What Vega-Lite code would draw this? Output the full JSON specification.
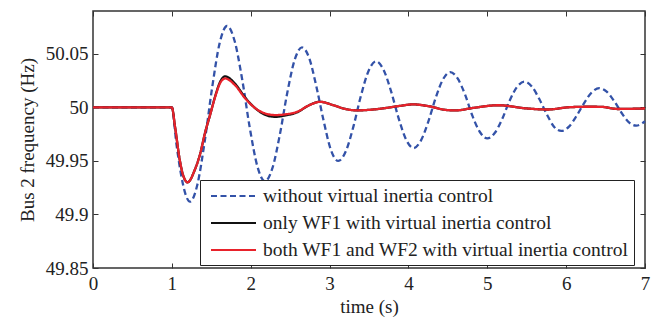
{
  "$schema": "https://vega.github.io/schema/vega-lite/v6.json",
  "width": 552,
  "height": 257,
  "autosize": {"type": "none"},
  "padding": {"left": 93, "top": 11, "right": 15, "bottom": 52},
  "background": "white",
  "config": {
    "font": "Liberation Serif",
    "view": {"stroke": "#333333", "strokeWidth": 1.5},
    "axis": {
      "domain": false,
      "grid": false,
      "labelFlush": false,
      "tickColor": "#333333",
      "tickSize": -5,
      "tickWidth": 1,
      "labelFont": "Liberation Serif",
      "labelFontSize": 19,
      "labelColor": "#222222",
      "titleFont": "Liberation Serif",
      "titleFontSize": 19,
      "titleFontWeight": "normal",
      "titleColor": "#222222"
    }
  },
  "layer": [
    {
      "data": {
        "values": [
          {"t": 0, "f": 50, "s": "without virtual inertia control"},
          {"t": 1.0, "f": 50, "s": "without virtual inertia control"},
          {"t": 1.0575, "f": 49.966, "s": "without virtual inertia control"},
          {"t": 1.115, "f": 49.938, "s": "without virtual inertia control"},
          {"t": 1.1725, "f": 49.919, "s": "without virtual inertia control"},
          {"t": 1.23, "f": 49.912, "s": "without virtual inertia control"},
          {"t": 1.324, "f": 49.928, "s": "without virtual inertia control"},
          {"t": 1.418, "f": 49.969, "s": "without virtual inertia control"},
          {"t": 1.512, "f": 50.019, "s": "without virtual inertia control"},
          {"t": 1.606, "f": 50.06, "s": "without virtual inertia control"},
          {"t": 1.7, "f": 50.076, "s": "without virtual inertia control"},
          {"t": 1.796, "f": 50.062, "s": "without virtual inertia control"},
          {"t": 1.892, "f": 50.026, "s": "without virtual inertia control"},
          {"t": 1.988, "f": 49.981, "s": "without virtual inertia control"},
          {"t": 2.084, "f": 49.945, "s": "without virtual inertia control"},
          {"t": 2.18, "f": 49.931, "s": "without virtual inertia control"},
          {"t": 2.274, "f": 49.943, "s": "without virtual inertia control"},
          {"t": 2.368, "f": 49.974, "s": "without virtual inertia control"},
          {"t": 2.462, "f": 50.013, "s": "without virtual inertia control"},
          {"t": 2.556, "f": 50.044, "s": "without virtual inertia control"},
          {"t": 2.65, "f": 50.056, "s": "without virtual inertia control"},
          {"t": 2.742, "f": 50.046, "s": "without virtual inertia control"},
          {"t": 2.834, "f": 50.019, "s": "without virtual inertia control"},
          {"t": 2.926, "f": 49.987, "s": "without virtual inertia control"},
          {"t": 3.018, "f": 49.96, "s": "without virtual inertia control"},
          {"t": 3.11, "f": 49.95, "s": "without virtual inertia control"},
          {"t": 3.206, "f": 49.959, "s": "without virtual inertia control"},
          {"t": 3.302, "f": 49.982, "s": "without virtual inertia control"},
          {"t": 3.398, "f": 50.011, "s": "without virtual inertia control"},
          {"t": 3.494, "f": 50.034, "s": "without virtual inertia control"},
          {"t": 3.59, "f": 50.043, "s": "without virtual inertia control"},
          {"t": 3.685, "f": 50.035, "s": "without virtual inertia control"},
          {"t": 3.78, "f": 50.015, "s": "without virtual inertia control"},
          {"t": 3.875, "f": 49.99, "s": "without virtual inertia control"},
          {"t": 3.97, "f": 49.97, "s": "without virtual inertia control"},
          {"t": 4.065, "f": 49.962, "s": "without virtual inertia control"},
          {"t": 4.158, "f": 49.969, "s": "without virtual inertia control"},
          {"t": 4.251, "f": 49.9865, "s": "without virtual inertia control"},
          {"t": 4.344, "f": 50.0085, "s": "without virtual inertia control"},
          {"t": 4.437, "f": 50.026, "s": "without virtual inertia control"},
          {"t": 4.53, "f": 50.033, "s": "without virtual inertia control"},
          {"t": 4.624, "f": 50.027, "s": "without virtual inertia control"},
          {"t": 4.718, "f": 50.012, "s": "without virtual inertia control"},
          {"t": 4.812, "f": 49.992, "s": "without virtual inertia control"},
          {"t": 4.906, "f": 49.977, "s": "without virtual inertia control"},
          {"t": 5.0, "f": 49.971, "s": "without virtual inertia control"},
          {"t": 5.094, "f": 49.976, "s": "without virtual inertia control"},
          {"t": 5.188, "f": 49.989, "s": "without virtual inertia control"},
          {"t": 5.282, "f": 50.006, "s": "without virtual inertia control"},
          {"t": 5.376, "f": 50.019, "s": "without virtual inertia control"},
          {"t": 5.47, "f": 50.024, "s": "without virtual inertia control"},
          {"t": 5.564, "f": 50.0196, "s": "without virtual inertia control"},
          {"t": 5.658, "f": 50.008, "s": "without virtual inertia control"},
          {"t": 5.752, "f": 49.994, "s": "without virtual inertia control"},
          {"t": 5.846, "f": 49.982, "s": "without virtual inertia control"},
          {"t": 5.94, "f": 49.978, "s": "without virtual inertia control"},
          {"t": 6.036, "f": 49.982, "s": "without virtual inertia control"},
          {"t": 6.132, "f": 49.992, "s": "without virtual inertia control"},
          {"t": 6.228, "f": 50.004, "s": "without virtual inertia control"},
          {"t": 6.324, "f": 50.014, "s": "without virtual inertia control"},
          {"t": 6.42, "f": 50.018, "s": "without virtual inertia control"},
          {"t": 6.514, "f": 50.0147, "s": "without virtual inertia control"},
          {"t": 6.608, "f": 50.006, "s": "without virtual inertia control"},
          {"t": 6.702, "f": 49.995, "s": "without virtual inertia control"},
          {"t": 6.796, "f": 49.986, "s": "without virtual inertia control"},
          {"t": 6.89, "f": 49.983, "s": "without virtual inertia control"},
          {"t": 7.0, "f": 49.987, "s": "without virtual inertia control"},

          {"t": 0, "f": 50, "s": "only WF1 with virtual inertia control"},
          {"t": 1.0, "f": 50, "s": "only WF1 with virtual inertia control"},
          {"t": 1.04, "f": 49.982, "s": "only WF1 with virtual inertia control"},
          {"t": 1.1, "f": 49.951, "s": "only WF1 with virtual inertia control"},
          {"t": 1.15, "f": 49.935, "s": "only WF1 with virtual inertia control"},
          {"t": 1.2, "f": 49.93, "s": "only WF1 with virtual inertia control"},
          {"t": 1.29, "f": 49.9415, "s": "only WF1 with virtual inertia control"},
          {"t": 1.36, "f": 49.957, "s": "only WF1 with virtual inertia control"},
          {"t": 1.42, "f": 49.976, "s": "only WF1 with virtual inertia control"},
          {"t": 1.485, "f": 49.993, "s": "only WF1 with virtual inertia control"},
          {"t": 1.55, "f": 50.0105, "s": "only WF1 with virtual inertia control"},
          {"t": 1.61, "f": 50.0235, "s": "only WF1 with virtual inertia control"},
          {"t": 1.675, "f": 50.029, "s": "only WF1 with virtual inertia control"},
          {"t": 1.8, "f": 50.0222, "s": "only WF1 with virtual inertia control"},
          {"t": 1.93, "f": 50.0092, "s": "only WF1 with virtual inertia control"},
          {"t": 2.06, "f": 49.999, "s": "only WF1 with virtual inertia control"},
          {"t": 2.18, "f": 49.9932, "s": "only WF1 with virtual inertia control"},
          {"t": 2.31, "f": 49.9912, "s": "only WF1 with virtual inertia control"},
          {"t": 2.44, "f": 49.9925, "s": "only WF1 with virtual inertia control"},
          {"t": 2.6, "f": 49.9958, "s": "only WF1 with virtual inertia control"},
          {"t": 2.72, "f": 50.0012, "s": "only WF1 with virtual inertia control"},
          {"t": 2.88, "f": 50.0052, "s": "only WF1 with virtual inertia control"},
          {"t": 3.05, "f": 50.002, "s": "only WF1 with virtual inertia control"},
          {"t": 3.2, "f": 49.9985, "s": "only WF1 with virtual inertia control"},
          {"t": 3.35, "f": 49.9972, "s": "only WF1 with virtual inertia control"},
          {"t": 3.55, "f": 49.998, "s": "only WF1 with virtual inertia control"},
          {"t": 3.72, "f": 49.9995, "s": "only WF1 with virtual inertia control"},
          {"t": 3.9, "f": 50.0015, "s": "only WF1 with virtual inertia control"},
          {"t": 4.06, "f": 50.0028, "s": "only WF1 with virtual inertia control"},
          {"t": 4.25, "f": 50.0012, "s": "only WF1 with virtual inertia control"},
          {"t": 4.49, "f": 49.9975, "s": "only WF1 with virtual inertia control"},
          {"t": 4.6, "f": 49.9972, "s": "only WF1 with virtual inertia control"},
          {"t": 4.83, "f": 49.9996, "s": "only WF1 with virtual inertia control"},
          {"t": 5.14, "f": 50.002, "s": "only WF1 with virtual inertia control"},
          {"t": 5.5, "f": 49.999, "s": "only WF1 with virtual inertia control"},
          {"t": 5.76, "f": 49.998, "s": "only WF1 with virtual inertia control"},
          {"t": 6.05, "f": 50.0002, "s": "only WF1 with virtual inertia control"},
          {"t": 6.3, "f": 50.0006, "s": "only WF1 with virtual inertia control"},
          {"t": 6.45, "f": 50.0005, "s": "only WF1 with virtual inertia control"},
          {"t": 6.65, "f": 49.9985, "s": "only WF1 with virtual inertia control"},
          {"t": 7.0, "f": 49.999, "s": "only WF1 with virtual inertia control"},

          {"t": 0, "f": 50, "s": "both WF1 and WF2 with virtual inertia control"},
          {"t": 1.0, "f": 50, "s": "both WF1 and WF2 with virtual inertia control"},
          {"t": 1.04, "f": 49.982, "s": "both WF1 and WF2 with virtual inertia control"},
          {"t": 1.1, "f": 49.951, "s": "both WF1 and WF2 with virtual inertia control"},
          {"t": 1.15, "f": 49.935, "s": "both WF1 and WF2 with virtual inertia control"},
          {"t": 1.2, "f": 49.93, "s": "both WF1 and WF2 with virtual inertia control"},
          {"t": 1.29, "f": 49.9415, "s": "both WF1 and WF2 with virtual inertia control"},
          {"t": 1.36, "f": 49.957, "s": "both WF1 and WF2 with virtual inertia control"},
          {"t": 1.42, "f": 49.976, "s": "both WF1 and WF2 with virtual inertia control"},
          {"t": 1.485, "f": 49.993, "s": "both WF1 and WF2 with virtual inertia control"},
          {"t": 1.55, "f": 50.01, "s": "both WF1 and WF2 with virtual inertia control"},
          {"t": 1.61, "f": 50.0224, "s": "both WF1 and WF2 with virtual inertia control"},
          {"t": 1.675, "f": 50.027, "s": "both WF1 and WF2 with virtual inertia control"},
          {"t": 1.8, "f": 50.0208, "s": "both WF1 and WF2 with virtual inertia control"},
          {"t": 1.93, "f": 50.0084, "s": "both WF1 and WF2 with virtual inertia control"},
          {"t": 2.06, "f": 49.9991, "s": "both WF1 and WF2 with virtual inertia control"},
          {"t": 2.18, "f": 49.9944, "s": "both WF1 and WF2 with virtual inertia control"},
          {"t": 2.31, "f": 49.9928, "s": "both WF1 and WF2 with virtual inertia control"},
          {"t": 2.44, "f": 49.9935, "s": "both WF1 and WF2 with virtual inertia control"},
          {"t": 2.6, "f": 49.9962, "s": "both WF1 and WF2 with virtual inertia control"},
          {"t": 2.72, "f": 50.0012, "s": "both WF1 and WF2 with virtual inertia control"},
          {"t": 2.88, "f": 50.0052, "s": "both WF1 and WF2 with virtual inertia control"},
          {"t": 3.05, "f": 50.002, "s": "both WF1 and WF2 with virtual inertia control"},
          {"t": 3.2, "f": 49.9985, "s": "both WF1 and WF2 with virtual inertia control"},
          {"t": 3.35, "f": 49.9972, "s": "both WF1 and WF2 with virtual inertia control"},
          {"t": 3.55, "f": 49.998, "s": "both WF1 and WF2 with virtual inertia control"},
          {"t": 3.72, "f": 49.9995, "s": "both WF1 and WF2 with virtual inertia control"},
          {"t": 3.9, "f": 50.0015, "s": "both WF1 and WF2 with virtual inertia control"},
          {"t": 4.06, "f": 50.0028, "s": "both WF1 and WF2 with virtual inertia control"},
          {"t": 4.25, "f": 50.0012, "s": "both WF1 and WF2 with virtual inertia control"},
          {"t": 4.49, "f": 49.9975, "s": "both WF1 and WF2 with virtual inertia control"},
          {"t": 4.6, "f": 49.9972, "s": "both WF1 and WF2 with virtual inertia control"},
          {"t": 4.83, "f": 49.9996, "s": "both WF1 and WF2 with virtual inertia control"},
          {"t": 5.14, "f": 50.002, "s": "both WF1 and WF2 with virtual inertia control"},
          {"t": 5.5, "f": 49.999, "s": "both WF1 and WF2 with virtual inertia control"},
          {"t": 5.76, "f": 49.998, "s": "both WF1 and WF2 with virtual inertia control"},
          {"t": 6.05, "f": 50.0002, "s": "both WF1 and WF2 with virtual inertia control"},
          {"t": 6.3, "f": 50.0006, "s": "both WF1 and WF2 with virtual inertia control"},
          {"t": 6.45, "f": 50.0005, "s": "both WF1 and WF2 with virtual inertia control"},
          {"t": 6.65, "f": 49.9985, "s": "both WF1 and WF2 with virtual inertia control"},
          {"t": 7.0, "f": 49.999, "s": "both WF1 and WF2 with virtual inertia control"}
        ]
      },
      "mark": {"type": "line", "interpolate": "monotone", "strokeWidth": 2.3},
      "encoding": {
        "x": {
          "field": "t", "type": "quantitative",
          "scale": {"domain": [0, 7], "nice": false, "zero": false},
          "axis": {"orient": "bottom", "values": [0, 1, 2, 3, 4, 5, 6, 7], "format": "d", "title": "time (s)", "labelPadding": 11, "titlePadding": 4}
        },
        "y": {
          "field": "f", "type": "quantitative",
          "scale": {"domain": [49.85, 50.09], "nice": false, "zero": false},
          "axis": {"orient": "left", "values": [49.85, 49.9, 49.95, 50, 50.05], "format": "~f", "title": "Bus 2 frequency (Hz)", "labelPadding": 10, "titlePadding": 8}
        },
        "color": {
          "field": "s", "type": "nominal",
          "scale": {
            "domain": ["without virtual inertia control", "only WF1 with virtual inertia control", "both WF1 and WF2 with virtual inertia control"],
            "range": ["#3352a8", "#111111", "#e8222b"]
          },
          "legend": {
            "orient": "none", "legendX": 107, "legendY": 169, "title": null,
            "labelFont": "Liberation Serif", "labelFontSize": 19.5, "labelColor": "#222222", "labelLimit": 0,
            "symbolType": "M-0.5,0H4", "symbolSize": 400, "symbolStrokeWidth": 2,
            "strokeColor": "#222222", "fillColor": "white", "padding": 5, "rowPadding": 6, "labelOffset": 36
          }
        },
        "strokeDash": {
          "field": "s", "type": "nominal",
          "scale": {
            "domain": ["without virtual inertia control", "only WF1 with virtual inertia control", "both WF1 and WF2 with virtual inertia control"],
            "range": [[6, 3.5], [1, 0], [1, 0]]
          },
          "legend": {
            "orient": "none", "legendX": 107, "legendY": 169, "title": null,
            "labelFont": "Liberation Serif", "labelFontSize": 19.5, "labelColor": "#222222", "labelLimit": 0,
            "symbolType": "M-0.5,0H4", "symbolSize": 400, "symbolStrokeWidth": 2,
            "strokeColor": "#222222", "fillColor": "white", "padding": 5, "rowPadding": 6, "labelOffset": 36
          }
        }
      }
    },
    {
      "data": {"values": [{"t": 0, "f": 50}]},
      "mark": {"type": "point", "opacity": 0},
      "encoding": {
        "x": {
          "field": "t", "type": "quantitative",
          "scale": {"domain": [0, 7], "nice": false, "zero": false},
          "axis": {"orient": "top", "values": [0, 1, 2, 3, 4, 5, 6, 7], "labels": false, "title": null}
        },
        "y": {
          "field": "f", "type": "quantitative",
          "scale": {"domain": [49.85, 50.09], "nice": false, "zero": false},
          "axis": {"orient": "right", "values": [49.85, 49.9, 49.95, 50, 50.05], "labels": false, "title": null}
        }
      }
    }
  ],
  "resolve": {"axis": {"x": "independent", "y": "independent"}}
}
